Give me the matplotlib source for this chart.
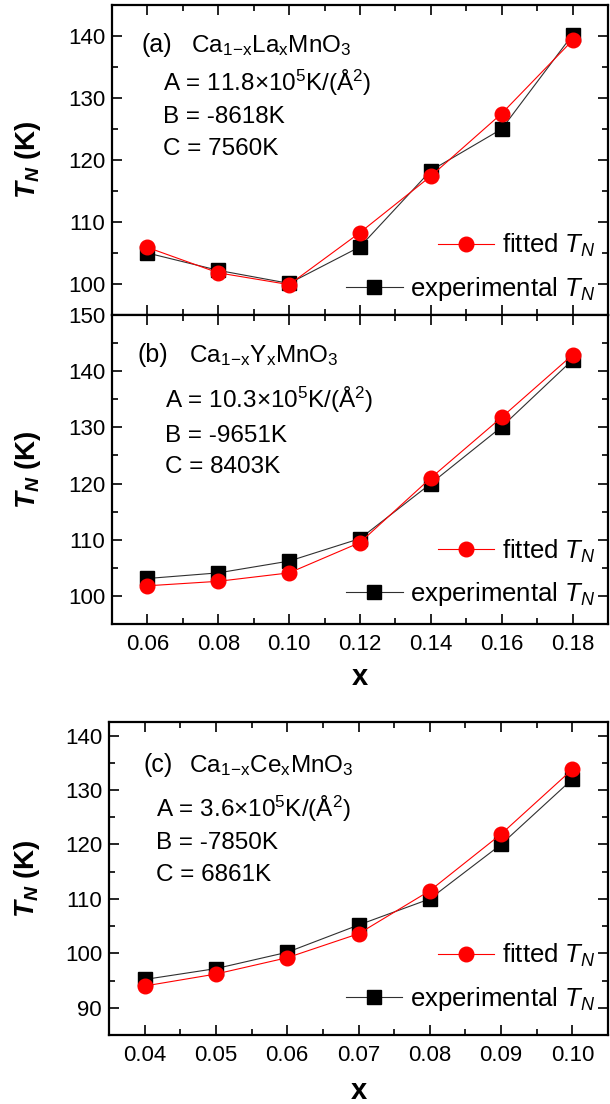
import numpy as np
import matplotlib
matplotlib.use("Agg")
import matplotlib.pyplot as plt
from matplotlib.ticker import MultipleLocator

plt.rcParams['font.family'] = ['Liberation Sans', 'DejaVu Sans']
plt.rcParams['mathtext.fontset'] = 'custom'
plt.rcParams['mathtext.rm'] = 'Liberation Sans'
plt.rcParams['mathtext.it'] = 'Liberation Sans:italic'
plt.rcParams['mathtext.bf'] = 'Liberation Sans:bold'
plt.rcParams['mathtext.bfit'] = 'Liberation Sans:italic:bold'

# panel (a) Ca1-xLaxMnO3
x_a = [0.06, 0.08, 0.10, 0.12, 0.14, 0.16, 0.18]
exp_a = [105.0, 102.2, 100.1, 106.0, 118.3, 125.0, 140.2]
fit_a = [105.9, 101.8, 99.9, 108.3, 117.4, 127.5, 139.3]

# panel (b) Ca1-xYxMnO3
x_b = [0.06, 0.08, 0.10, 0.12, 0.14, 0.16, 0.18]
exp_b = [103.1, 104.1, 106.2, 110.2, 120.0, 130.1, 142.0]
fit_b = [101.8, 102.6, 104.1, 109.5, 121.0, 131.8, 142.9]

# panel (c) Ca1-xCexMnO3
x_c = [0.04, 0.05, 0.06, 0.07, 0.08, 0.09, 0.10]
exp_c = [95.2, 97.2, 100.2, 105.2, 110.0, 120.0, 132.0]
fit_c = [94.0, 96.2, 99.2, 103.6, 111.5, 121.9, 133.8]

labels_a = ['(a)', r'Ca$_{\mathrm{1\!-\!x}}$La$_\mathrm{x}$MnO$_3$',
            r'A = 11.8×10$^5$K/(Å$^2$)', 'B = -8618K', 'C = 7560K']
labels_b = ['(b)', r'Ca$_{\mathrm{1\!-\!x}}$Y$_\mathrm{x}$MnO$_3$',
            r'A = 10.3×10$^5$K/(Å$^2$)', 'B = -9651K', 'C = 8403K']
labels_c = ['(c)', r'Ca$_{\mathrm{1\!-\!x}}$Ce$_\mathrm{x}$MnO$_3$',
            r'A = 3.6×10$^5$K/(Å$^2$)', 'B = -7850K', 'C = 6861K']

W, H = 610, 1104
fig = plt.figure(figsize=(W / 100, H / 100), dpi=100)


def px_axes(l, t, r, b):
    return fig.add_axes([l / W, 1 - b / H, (r - l) / W, (b - t) / H])


def panel(ax, x, exp, fit, txt, xlim, ylim, ypos, leg_y, xstep, show_x):
    l_exp, = ax.plot(x, exp, '-', color='#303030', lw=0.8, marker='s',
                     ms=9.5, mfc='black', mec='black')
    l_fit, = ax.plot(x, fit, '-', color='red', lw=0.8, marker='o',
                     ms=10.5, mfc='red', mec='red')
    ax.set_xlim(*xlim)
    ax.set_ylim(*ylim)
    ax.xaxis.set_major_locator(MultipleLocator(xstep))
    ax.xaxis.set_minor_locator(MultipleLocator(xstep / 2))
    ax.yaxis.set_major_locator(MultipleLocator(10))
    ax.yaxis.set_minor_locator(MultipleLocator(5))
    ax.tick_params(which='both', direction='in', top=True, right=True,
                   labelsize=16, width=1.2)
    ax.tick_params(which='major', length=7)
    ax.tick_params(which='minor', length=4)
    ax.tick_params(axis='x', which='major', pad=7)
    ax.tick_params(axis='y', which='major', pad=5)
    for s in ax.spines.values():
        s.set_linewidth(1.6)
    if show_x:
        ax.xaxis.set_major_formatter(plt.FuncFormatter(lambda v, p: '%.2f' % v))
        ax.set_xlabel('x', fontsize=21, fontweight='bold')
    else:
        ax.tick_params(labelbottom=False)
    ax.set_ylabel(r'$\mathbfit{T_N}$ (K)', fontsize=20, fontweight='bold')

    xs = [ypos[0], ypos[1], ypos[2], ypos[2], ypos[2]]
    sizes = [18, 17.5, 17.5, 17.5, 17.5]
    for i, s in enumerate(txt):
        ax.text(xs[i], ypos[3 + i], s, transform=ax.transAxes,
                fontsize=sizes[i], ha='left', va='baseline')

    leg1 = ax.legend([l_fit], [r'fitted $T_N$'], loc='center right',
                     bbox_to_anchor=(0.975, leg_y[0]), frameon=False,
                     fontsize=18.5, handlelength=2.2, handletextpad=0.3,
                     borderpad=0, borderaxespad=0)
    ax.add_artist(leg1)
    ax.legend([l_exp], [r'experimental $T_N$'], loc='center right',
              bbox_to_anchor=(0.975, leg_y[1]), frameon=False,
              fontsize=18.5, handlelength=2.2, handletextpad=0.3,
              borderpad=0, borderaxespad=0)
    return ax


ax_a = px_axes(112, 5, 608, 315)
panel(ax_a, x_a, exp_a, fit_a, labels_a, (0.05, 0.19), (95, 145),
      [0.06, 0.159, 0.103, 0.848, 0.848, 0.722, 0.619, 0.516],
      [0.225, 0.085], 0.02, False)
ax_a.yaxis.set_label_coords(-0.14, 0.5)

ax_b = px_axes(112, 315, 608, 624)
panel(ax_b, x_b, exp_b, fit_b, labels_b, (0.05, 0.19), (95, 150),
      [0.052, 0.155, 0.107, 0.848, 0.848, 0.699, 0.589, 0.489],
      [0.236, 0.098], 0.02, True)
ax_b.yaxis.set_label_coords(-0.14, 0.5)
ax_b.xaxis.set_label_coords(0.5, -0.127)

ax_c = px_axes(109, 722, 608, 1035)
panel(ax_c, x_c, exp_c, fit_c, labels_c, (0.035, 0.105), (85, 142.5),
      [0.07, 0.16, 0.094, 0.84, 0.84, 0.696, 0.594, 0.492],
      [0.255, 0.116], 0.01, True)
ax_c.yaxis.set_label_coords(-0.135, 0.5)
ax_c.xaxis.set_label_coords(0.5, -0.135)

fig.savefig('out.png', dpi=100)
